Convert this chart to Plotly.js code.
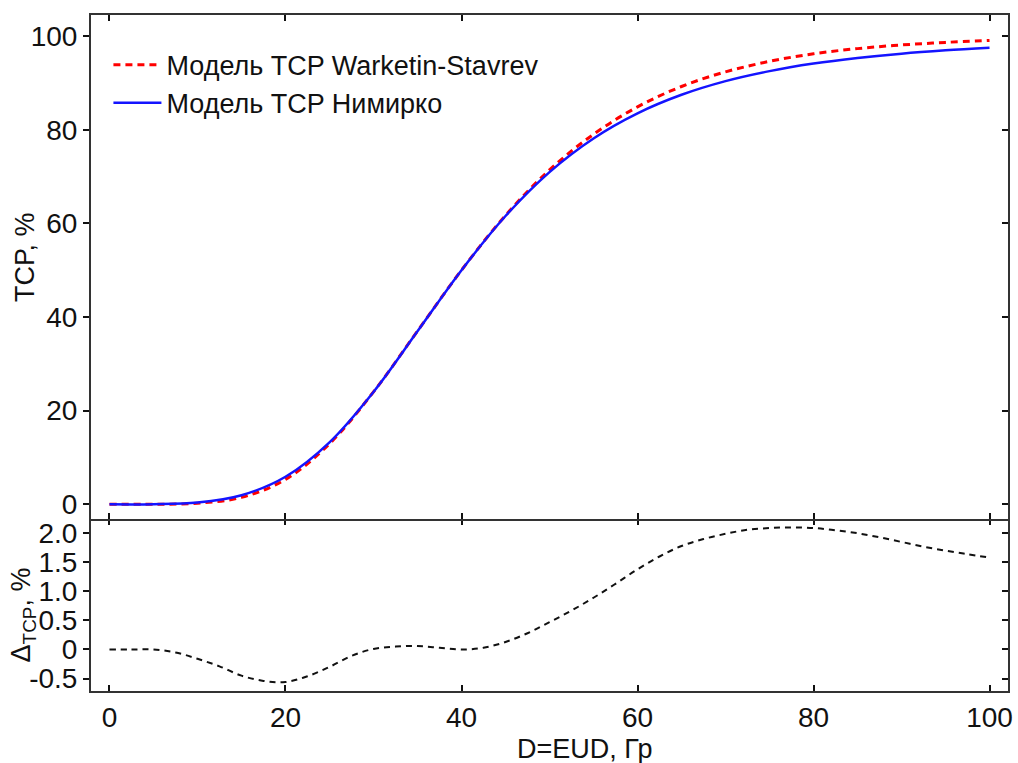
<!DOCTYPE html>
<html>
<head>
<meta charset="utf-8">
<script src="https://cdn.plot.ly/plotly-3.0.1.min.js"></script>
<style>
html,body{margin:0;padding:0;background:#fff;}
#chart{width:1018px;height:763px;}
</style>
</head>
<body>
<div id="chart"></div>
<script>
// Dose, Gy (top panel)
const doseTop = [0,5,10,15,20,25,30,35,40,45,50,55,60,65,70,75,80,85,90,95,100];
// TCP model Warketin-Stavrev, %
const tcpWS = [0,0.02,0.23,1.49,5.32,12.94,24.01,37.01,50.0,61.70,71.42,79.02,84.88,89.23,92.35,94.60,96.22,97.32,98.10,98.65,99.08];
// TCP model Нимирко, %
const tcpNim = [0,0.02,0.39,1.94,5.88,13.24,24.0,36.95,50.0,61.57,70.95,78.14,83.5,87.46,90.37,92.51,94.12,95.32,96.25,96.95,97.50];

// Dose, Gy (bottom panel)
const doseDelta = [0,2.5,5,7.5,10,12.5,15,17.5,20,22.5,25,27.5,30,32.5,35,37.5,40,42.5,45,47.5,50,52.5,55,57.5,60,62.5,65,67.5,70,72.5,75,77.5,80,82.5,85,87.5,90,92.5,95,97.5,100];
// Difference of TCP, %
const deltaTCP = [0,0,0,-0.05,-0.16,-0.29,-0.45,-0.54,-0.56,-0.46,-0.30,-0.11,0.01,0.05,0.06,0.03,0.0,0.03,0.13,0.28,0.47,0.67,0.89,1.13,1.38,1.60,1.78,1.90,1.99,2.06,2.09,2.10,2.09,2.05,2.00,1.93,1.85,1.77,1.70,1.64,1.58];

// Tick labels
const xTickVals = [0,20,40,60,80,100];
const xTickText = ['0','20','40','60','80','100'];
const yTopTickVals = [0,20,40,60,80,100];
const yTopTickText = ['0','20','40','60','80','100'];
const yBotTickVals = [-0.5,0,0.5,1.0,1.5,2.0];
const yBotTickText = ['-0.5','0','0.5','1.0','1.5','2.0'];

const seriesNames = ['Модель TCP Warketin-Stavrev','Модель TCP Нимирко'];

const FONT = 'Liberation Sans, Arial, sans-serif';
const FS = 27;
const TFS = 28;
const frameColor = '#333333';

const traces = [
  {x: doseTop, y: tcpWS, type:'scatter', mode:'lines', name: seriesNames[0],
   xaxis:'x2', yaxis:'y',
   line:{color:'#ff0000', width:3, dash:'7px,5px', shape:'spline'}},
  {x: doseTop, y: tcpNim, type:'scatter', mode:'lines', name: seriesNames[1],
   xaxis:'x2', yaxis:'y',
   line:{color:'#1414ff', width:2.5, shape:'spline'}},
  {x: doseDelta, y: deltaTCP, type:'scatter', mode:'lines', name:'Δ',
   xaxis:'x', yaxis:'y2', showlegend:false,
   line:{color:'#111111', width:2, dash:'6px,5px', shape:'spline'}},
  // empty helper traces so the tick-only overlay axes get drawn
  {x: [], y: [], type:'scatter', mode:'lines', xaxis:'x2', yaxis:'y3', showlegend:false, hoverinfo:'skip'},
  {x: [], y: [], type:'scatter', mode:'lines', xaxis:'x', yaxis:'y4', showlegend:false, hoverinfo:'skip'},
  {x: [], y: [], type:'scatter', mode:'lines', xaxis:'x3', yaxis:'y2', showlegend:false, hoverinfo:'skip'}
];

const split = 0.254;
const xRange = [-2.1, 102.1];
const common = {showgrid:false, zeroline:false, linecolor:frameColor, linewidth:2,
  tickcolor:'#111', tickwidth:2, ticklen:6, showline:true};
const tickOnly = {showgrid:false, zeroline:false, showline:false, ticklen:6, tickwidth:2,
  tickcolor:'#111', showticklabels:false, ticks:'inside'};

const layout = {
  width:1018, height:763,
  margin:{l:91, r:10, t:15, b:72},
  paper_bgcolor:'#fff', plot_bgcolor:'rgba(0,0,0,0)',
  font:{family:FONT, size:FS, color:'#111'},
  showlegend:true,
  legend:{x:0.019, y:0.962, xanchor:'left', yanchor:'top', bgcolor:'rgba(0,0,0,0)',
    itemwidth:48, font:{family:FONT, size:FS, color:'#111'}, tracegroupgap:0},
  xaxis: Object.assign({}, common, {domain:[0,1], anchor:'y2', range:xRange,
    ticks:'inside', mirror:false, tickvals:xTickVals, ticktext:xTickText,
    tickfont:{family:FONT, size:TFS}}),
  xaxis3: Object.assign({}, tickOnly, {overlaying:'x', side:'top', anchor:'y2', range:xRange,
    matches:'x', tickvals:xTickVals}),
  xaxis2: Object.assign({}, common, {domain:[0,1], anchor:'y', range:xRange, matches:'x',
    ticks:'inside', mirror:'ticks', tickvals:xTickVals, showticklabels:false}),
  yaxis: Object.assign({}, common, {domain:[split,1], anchor:'x2', range:[-3.2,104.5],
    ticks:'outside', mirror:true, tickvals:yTopTickVals, ticktext:yTopTickText,
    tickfont:{family:FONT, size:TFS}}),
  yaxis3: Object.assign({}, tickOnly, {overlaying:'y', side:'right', anchor:'x2', range:[-3.2,104.5],
    tickvals:yTopTickVals}),
  yaxis2: Object.assign({}, common, {domain:[0,split], anchor:'x', range:[-0.714,2.24],
    ticks:'outside', mirror:true, tickvals:yBotTickVals, ticktext:yBotTickText,
    tickfont:{family:FONT, size:TFS}}),
  yaxis4: Object.assign({}, tickOnly, {overlaying:'y2', side:'right', anchor:'x', range:[-0.714,2.24],
    tickvals:yBotTickVals}),
  annotations:[
    {text:'TCP, %', xref:'paper', yref:'paper', x:-0.072, y:0.642, textangle:-90,
     showarrow:false, xanchor:'center', yanchor:'middle', font:{family:FONT, size:FS, color:'#111'}},
    {text:'Δ<sub>TCP</sub>, %', xref:'paper', yref:'paper', x:-0.074, y:0.112, textangle:-90,
     showarrow:false, xanchor:'center', yanchor:'middle', font:{family:FONT, size:FS, color:'#111'}},
    {text:'D=EUD, Гр', xref:'paper', yref:'paper', x:0.5387, y:-0.086,
     showarrow:false, xanchor:'center', yanchor:'middle', font:{family:FONT, size:FS, color:'#111'}}
  ]
};

Plotly.newPlot('chart', traces, layout, {displayModeBar:false, staticPlot:true});
</script>
</body>
</html>
